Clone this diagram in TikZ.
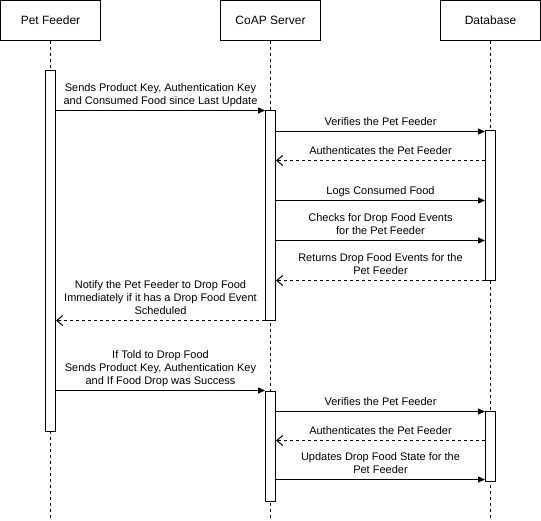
\documentclass[tikz,border=0pt]{standalone}
\usepackage{fontspec}
\setmainfont{Liberation Sans}
\usetikzlibrary{arrows.meta}

\begin{document}
\begin{tikzpicture}[x=1pt, y=-1pt, node distance=220pt]
\tikzstyle{actor} = [rectangle, minimum width=100pt, minimum height=40pt, text centered, draw=black, line width=1pt, font=\fontsize{12}{14}\selectfont]
\tikzstyle{bar} = [rectangle, minimum width=10pt, anchor=north, draw=black, fill=white, line width=1pt, inner sep=0]
\tikzstyle{life} = [dash pattern=on 3pt off 3pt, line width=1pt]
\tikzstyle{call} = [-{Triangle[length=7pt, width=6pt]}, line width=1pt]
\tikzstyle{reply} = [-{Straight Barb[length=6pt, width=10pt]}, dash pattern=on 3pt off 3pt, line width=1pt]
\tikzstyle{msg} = [above=1.8pt, inner sep=0, align=center, font=\fontsize{11}{13}\selectfont, execute at end node=\strut]
\useasboundingbox (-0.5,-0.5) rectangle (540.5,520.5);

\node (PF) [actor] at (50,20) {Pet Feeder};
\node (CS) [actor, right of=PF] {CoAP Server};
\node (DB) [actor, right of=CS] {Database};

\coordinate (bot) at (0,521);
\draw [life] (PF.south) -- (PF |- bot);
\draw [life] (CS.south) -- (CS |- bot);
\draw [life] (DB.south) -- (DB |- bot);

\node (PFa) [bar, minimum height=360pt] at (50,70) {};
\node (CSa) [bar, minimum height=210pt] at (270,110) {};
\node (DBa) [bar, minimum height=150pt] at (490,130) {};
\node (CSb) [bar, minimum height=110pt] at (270,390) {};
\node (DBb) [bar, minimum height=70pt] at (490,410) {};

\coordinate (m1) at (0,110);
\coordinate (m2) at (0,131);
\coordinate (m3) at (0,160);
\coordinate (m4) at (0,200);
\coordinate (m5) at (0,240);
\coordinate (m6) at (0,280);
\coordinate (m7) at (0,320);
\coordinate (m8) at (0,390);
\coordinate (m9) at (0,411);
\coordinate (m10) at (0,440);
\coordinate (m11) at (0,479);

\draw [call] (PFa.east |- m1) -- node [msg] {Sends Product Key, Authentication Key\\and Consumed Food since Last Update} (CSa.west |- m1);
\draw [call] (CSa.east |- m2) -- node [msg] {Verifies the Pet Feeder} (DBa.west |- m2);
\draw [reply] (DBa.west |- m3) -- node [msg] {Authenticates the Pet Feeder} (CSa.east |- m3);
\draw [call] (CSa.east |- m4) -- node [msg] {Logs Consumed Food} (DBa.west |- m4);
\draw [call] (CSa.east |- m5) -- node [msg] {Checks for Drop Food Events\\for the Pet Feeder} (DBa.west |- m5);
\draw [reply] (DBa.west |- m6) -- node [msg] {Returns Drop Food Events for the\\Pet Feeder} (CSa.east |- m6);
\draw [reply] (CSa.west |- m7) -- node [msg] {Notify the Pet Feeder to Drop Food\\Immediately if it has a Drop Food Event\\Scheduled} (PFa.east |- m7);
\draw [call] (PFa.east |- m8) -- node [msg] {If Told to Drop Food\\Sends Product Key, Authentication Key\\and If Food Drop was Success} (CSb.west |- m8);
\draw [call] (CSb.east |- m9) -- node [msg] {Verifies the Pet Feeder} (DBb.west |- m9);
\draw [reply] (DBb.west |- m10) -- node [msg] {Authenticates the Pet Feeder} (CSb.east |- m10);
\draw [call] (CSb.east |- m11) -- node [msg] {Updates Drop Food State for the\\Pet Feeder} (DBb.west |- m11);

\end{tikzpicture}
\end{document}
